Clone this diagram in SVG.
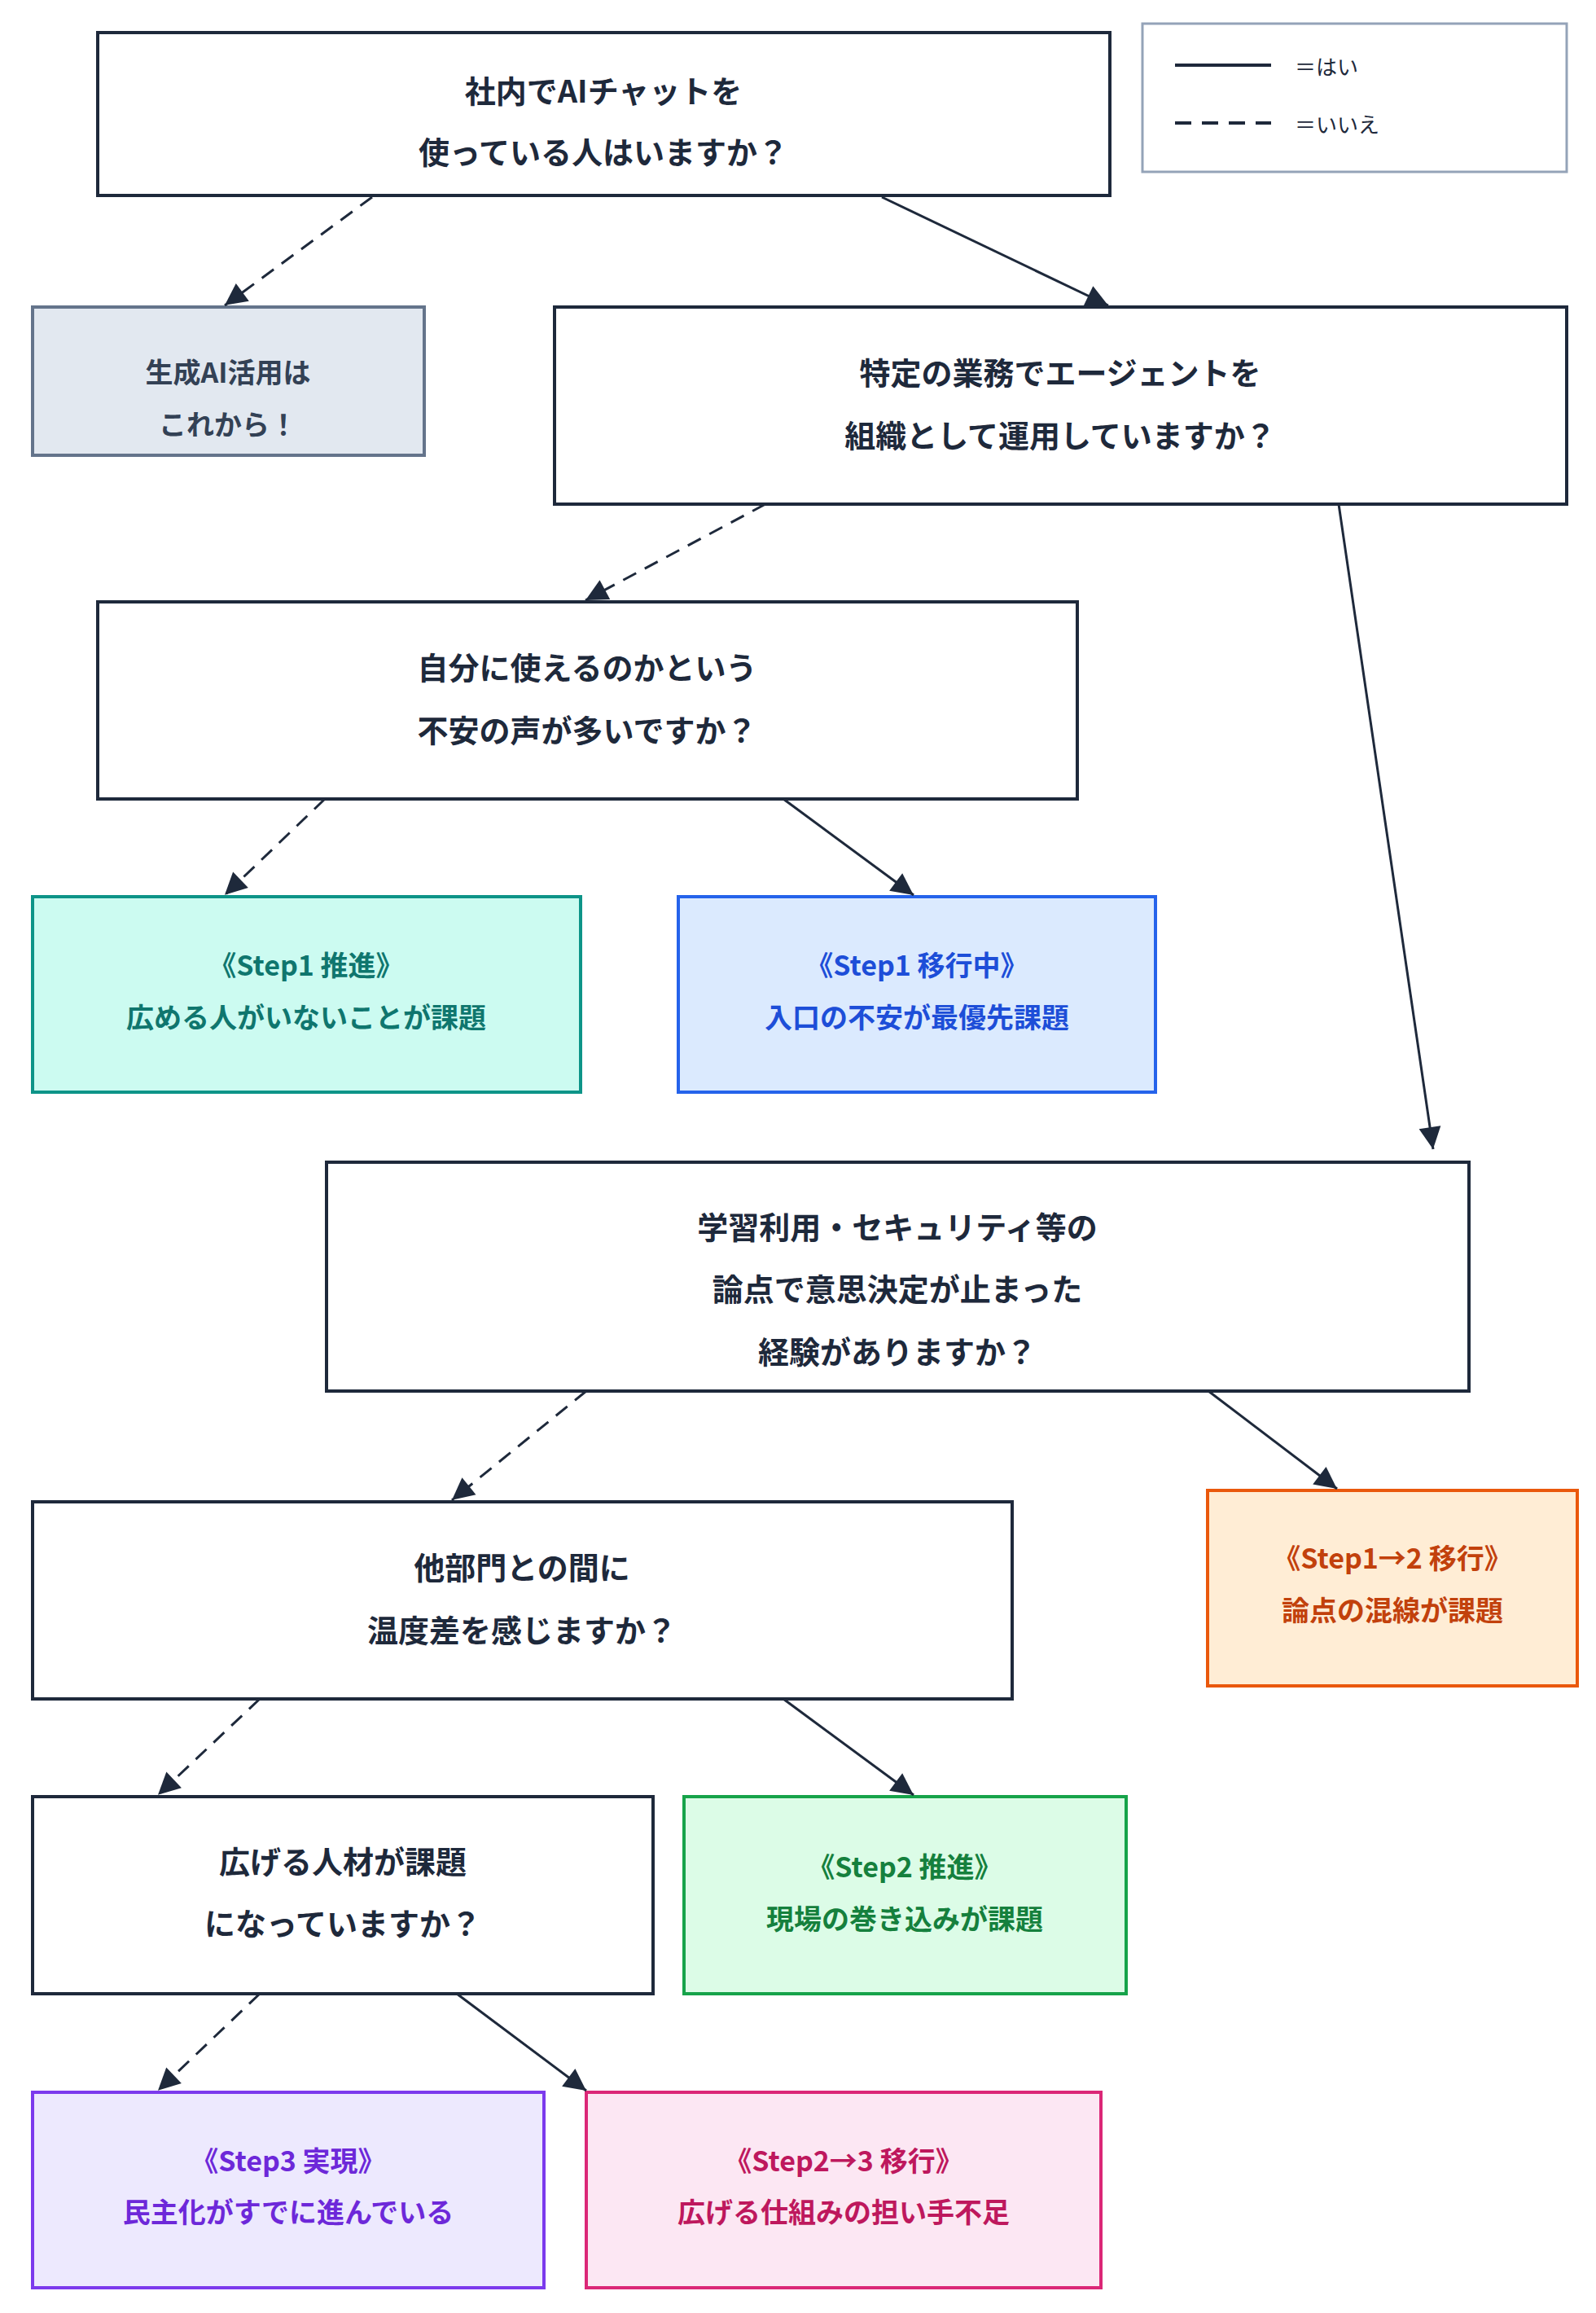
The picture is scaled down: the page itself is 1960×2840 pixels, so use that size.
<svg xmlns="http://www.w3.org/2000/svg" width="1960" height="2840" viewBox="0 0 1960 2840">
<style>
text{font-family:"Noto Sans CJK JP","Noto Sans",sans-serif;font-weight:bold;text-anchor:middle;dominant-baseline:central}
.q rect{fill:#fff;stroke:#1e293b;stroke-width:4}
.q text{font-size:38px;fill:#1e293b}
.r text{font-size:34px}
.e{stroke:#1e293b;stroke-width:3;fill:none;marker-end:url(#a)}
.d{stroke-dasharray:18 12}
</style>
<defs><marker id="a" viewBox="0 0 10 10" refX="10" refY="5" markerWidth="9" markerHeight="9" markerUnits="userSpaceOnUse" orient="auto" style="overflow:visible"><path d="M0,0L10,5L0,10z" fill="#1e293b" transform="scale(3)translate(-6.7,-3.3)"/></marker></defs>
<g id="legend"><rect x="1403" y="29" width="521" height="182" fill="#fff" stroke="#94a3b8" stroke-width="3"/>
<line x1="1443" y1="80" x2="1561" y2="80" stroke="#1e293b" stroke-width="4"/>
<line x1="1443" y1="151" x2="1561" y2="151" stroke="#1e293b" stroke-width="4" stroke-dasharray="20 13"/>
<text x="1590" y="80" style="font-size:26px;font-weight:normal;text-anchor:start;fill:#1e293b">＝はい</text>
<text x="1590" y="151" style="font-size:26px;font-weight:normal;text-anchor:start;fill:#1e293b">＝いいえ</text></g>
<g id="q1" class="q"><rect x="120" y="40" width="1243" height="200"/><text x="741" y="109">社内でAIチャットを</text><text x="741" y="184">使っている人はいますか？</text></g>
<g id="start" class="r"><rect x="40" y="377" width="481" height="182" fill="#e2e8f0" stroke="#64748b" stroke-width="4"/><text x="280" y="455" fill="#334155">生成AI活用は</text><text x="280" y="519" fill="#334155">これから！</text></g>
<g id="q2" class="q"><rect x="681" y="377" width="1243" height="242"/><text x="1302" y="455">特定の業務でエージェントを</text><text x="1302" y="532">組織として運用していますか？</text></g>
<g id="q3" class="q"><rect x="120" y="739" width="1203" height="242"/><text x="721" y="817">自分に使えるのかという</text><text x="721" y="894">不安の声が多いですか？</text></g>
<g id="s1a" class="r"><rect x="40" y="1101" width="673" height="240" fill="#ccfbf1" stroke="#0d9488" stroke-width="4"/><text x="376" y="1183" fill="#0f766e">《Step1 推進》</text><text x="376" y="1247" fill="#0f766e">広める人がいないことが課題</text></g>
<g id="s1b" class="r"><rect x="833" y="1101" width="586" height="240" fill="#dbeafe" stroke="#2563eb" stroke-width="4"/><text x="1126" y="1183" fill="#1d4ed8">《Step1 移行中》</text><text x="1126" y="1247" fill="#1d4ed8">入口の不安が最優先課題</text></g>
<g id="q4" class="q"><rect x="401" y="1427" width="1403" height="281"/><text x="1102" y="1504">学習利用・セキュリティ等の</text><text x="1102" y="1580">論点で意思決定が止まった</text><text x="1102" y="1657">経験がありますか？</text></g>
<g id="s12" class="r"><rect x="1483" y="1830" width="454" height="240" fill="#ffedd5" stroke="#ea580c" stroke-width="4"/><text x="1710" y="1911" fill="#c2410c">《Step1→2 移行》</text><text x="1710" y="1975" fill="#c2410c">論点の混線が課題</text></g>
<g id="q5" class="q"><rect x="40" y="1844" width="1203" height="242"/><text x="641" y="1922">他部門との間に</text><text x="641" y="1999">温度差を感じますか？</text></g>
<g id="q6" class="q"><rect x="40" y="2206" width="762" height="242"/><text x="421" y="2283">広げる人材が課題</text><text x="421" y="2359">になっていますか？</text></g>
<g id="s2" class="r"><rect x="840" y="2206" width="543" height="242" fill="#dcfce7" stroke="#16a34a" stroke-width="4"/><text x="1111" y="2290" fill="#15803d">《Step2 推進》</text><text x="1111" y="2354" fill="#15803d">現場の巻き込みが課題</text></g>
<g id="s3" class="r"><rect x="40" y="2569" width="628" height="240" fill="#ede9fe" stroke="#7c3aed" stroke-width="4"/><text x="354" y="2651" fill="#6d28d9">《Step3 実現》</text><text x="354" y="2714" fill="#6d28d9">民主化がすでに進んでいる</text></g>
<g id="s23" class="r"><rect x="720" y="2569" width="632" height="240" fill="#fce7f3" stroke="#db2777" stroke-width="4"/><text x="1036" y="2651" fill="#be185d">《Step2→3 移行》</text><text x="1036" y="2714" fill="#be185d">広げる仕組みの担い手不足</text></g>
<g id="edges">
<line class="e d" x1="457" y1="242" x2="276" y2="375"/>
<line class="e" x1="1083" y1="242" x2="1361" y2="375"/>
<line class="e d" x1="940" y1="619" x2="719" y2="737"/>
<line class="e" x1="1644" y1="619" x2="1760" y2="1411"/>
<line class="e d" x1="399" y1="981" x2="276" y2="1099"/>
<line class="e" x1="962" y1="981" x2="1122" y2="1099"/>
<line class="e d" x1="720" y1="1708" x2="555" y2="1842"/>
<line class="e" x1="1484" y1="1708" x2="1642" y2="1828"/>
<line class="e d" x1="319" y1="2086" x2="194" y2="2204"/>
<line class="e" x1="962" y1="2086" x2="1122" y2="2204"/>
<line class="e d" x1="319" y1="2448" x2="194" y2="2567"/>
<line class="e" x1="561" y1="2448" x2="720" y2="2567"/>
</g>
</svg>
